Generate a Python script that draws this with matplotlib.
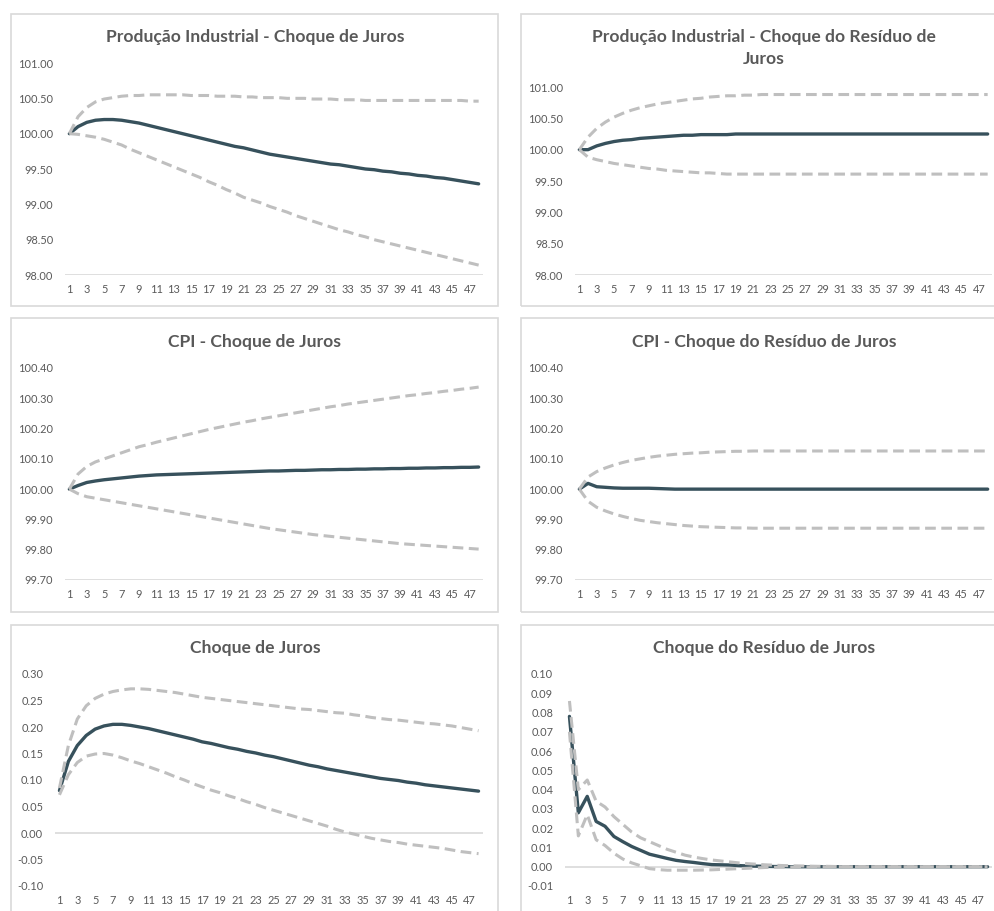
import matplotlib.pyplot as plt
from matplotlib.patches import Rectangle

plt.rcParams['font.family'] = ['Lato', 'DejaVu Sans']

W, H = 994, 911
periods = list(range(1, 49))
xtick_labels = [str(p) for p in range(1, 48, 2)]

# Produção Industrial - Choque de Juros
pi_juros_mid = [100.00, 100.10, 100.16, 100.19, 100.20, 100.20, 100.19, 100.17, 100.15, 100.12,
                100.09, 100.06, 100.03, 100.00, 99.97, 99.94, 99.91, 99.88, 99.85, 99.82,
                99.80, 99.77, 99.74, 99.71, 99.69, 99.67, 99.65, 99.63, 99.61, 99.59,
                99.57, 99.56, 99.54, 99.52, 99.50, 99.49, 99.47, 99.46, 99.44, 99.43,
                99.41, 99.40, 99.38, 99.37, 99.35, 99.33, 99.31, 99.29]
pi_juros_up = [100.00, 100.24, 100.37, 100.45, 100.49, 100.51, 100.53, 100.54, 100.54, 100.55,
               100.55, 100.55, 100.55, 100.55, 100.54, 100.54, 100.54, 100.53, 100.53, 100.53,
               100.52, 100.52, 100.51, 100.51, 100.51, 100.50, 100.50, 100.50, 100.49, 100.49,
               100.49, 100.48, 100.48, 100.48, 100.47, 100.47, 100.47, 100.47, 100.47, 100.47,
               100.47, 100.47, 100.47, 100.47, 100.47, 100.47, 100.46, 100.46]
pi_juros_lo = [100.00, 99.99, 99.97, 99.95, 99.92, 99.88, 99.84, 99.78, 99.73, 99.68,
               99.63, 99.58, 99.53, 99.48, 99.43, 99.38, 99.32, 99.27, 99.21, 99.16,
               99.10, 99.06, 99.02, 98.97, 98.93, 98.89, 98.84, 98.80, 98.76, 98.72,
               98.68, 98.64, 98.61, 98.57, 98.54, 98.50, 98.47, 98.44, 98.41, 98.38,
               98.35, 98.32, 98.29, 98.26, 98.23, 98.20, 98.17, 98.14]

# Produção Industrial - Choque do Resíduo de Juros
pi_resid_mid = [100.00, 100.00, 100.06, 100.10, 100.13, 100.15, 100.16, 100.18, 100.19, 100.20,
                100.21, 100.22, 100.23, 100.23, 100.24, 100.24, 100.24, 100.24, 100.25, 100.25,
                100.25, 100.25, 100.25, 100.25, 100.25, 100.25, 100.25, 100.25, 100.25, 100.25,
                100.25, 100.25, 100.25, 100.25, 100.25, 100.25, 100.25, 100.25, 100.25, 100.25,
                100.25, 100.25, 100.25, 100.25, 100.25, 100.25, 100.25, 100.25]
pi_resid_up = [100.00, 100.20, 100.34, 100.44, 100.52, 100.58, 100.63, 100.67, 100.70, 100.73,
               100.75, 100.77, 100.79, 100.81, 100.82, 100.84, 100.85, 100.86, 100.86, 100.87,
               100.87, 100.88, 100.88, 100.88, 100.88, 100.88, 100.88, 100.88, 100.88, 100.88,
               100.88, 100.88, 100.88, 100.88, 100.88, 100.88, 100.88, 100.88, 100.88, 100.88,
               100.88, 100.88, 100.88, 100.88, 100.88, 100.88, 100.88, 100.88]
pi_resid_lo = [100.00, 99.88, 99.84, 99.81, 99.78, 99.76, 99.74, 99.72, 99.70, 99.69,
               99.67, 99.66, 99.65, 99.64, 99.63, 99.63, 99.62, 99.61, 99.61, 99.61,
               99.61, 99.61, 99.61, 99.61, 99.61, 99.61, 99.61, 99.61, 99.61, 99.61,
               99.61, 99.61, 99.61, 99.61, 99.61, 99.61, 99.61, 99.61, 99.61, 99.61,
               99.61, 99.61, 99.61, 99.61, 99.61, 99.61, 99.61, 99.61]

# CPI - Choque de Juros
cpi_juros_mid = [100.000, 100.012, 100.022, 100.027, 100.031, 100.034, 100.037, 100.040, 100.043, 100.045,
                 100.047, 100.048, 100.049, 100.050, 100.051, 100.052, 100.053, 100.054, 100.055, 100.056,
                 100.057, 100.058, 100.059, 100.060, 100.060, 100.061, 100.062, 100.062, 100.063, 100.064,
                 100.064, 100.065, 100.065, 100.066, 100.066, 100.067, 100.067, 100.068, 100.068, 100.069,
                 100.069, 100.070, 100.070, 100.071, 100.071, 100.072, 100.072, 100.073]
cpi_juros_up = [100.000, 100.050, 100.075, 100.090, 100.100, 100.110, 100.120, 100.130, 100.140, 100.147,
                100.155, 100.162, 100.169, 100.176, 100.183, 100.190, 100.197, 100.203, 100.209, 100.215,
                100.221, 100.226, 100.232, 100.237, 100.242, 100.247, 100.252, 100.257, 100.262, 100.267,
                100.272, 100.276, 100.281, 100.285, 100.289, 100.293, 100.297, 100.301, 100.305, 100.309,
                100.312, 100.316, 100.319, 100.323, 100.326, 100.330, 100.333, 100.337]
cpi_juros_lo = [100.000, 99.985, 99.975, 99.970, 99.965, 99.960, 99.955, 99.950, 99.945, 99.940,
                99.935, 99.930, 99.925, 99.920, 99.915, 99.910, 99.905, 99.900, 99.895, 99.890,
                99.885, 99.880, 99.875, 99.870, 99.866, 99.862, 99.858, 99.854, 99.850, 99.847,
                99.844, 99.841, 99.838, 99.835, 99.832, 99.829, 99.826, 99.823, 99.820, 99.818,
                99.816, 99.814, 99.812, 99.810, 99.808, 99.806, 99.804, 99.802]

# CPI - Choque do Resíduo de Juros
cpi_resid_mid = [100.000, 100.019, 100.008, 100.006, 100.004, 100.003, 100.003, 100.003, 100.003, 100.002,
                 100.001, 100.000, 100.000, 100.000, 100.000, 100.000, 100.000, 100.000, 100.000, 100.000,
                 100.000, 100.000, 100.000, 100.000, 100.000, 100.000, 100.000, 100.000, 100.000, 100.000,
                 100.000, 100.000, 100.000, 100.000, 100.000, 100.000, 100.000, 100.000, 100.000, 100.000,
                 100.000, 100.000, 100.000, 100.000, 100.000, 100.000, 100.000, 100.000]
cpi_resid_up = [100.000, 100.040, 100.058, 100.070, 100.080, 100.088, 100.095, 100.100, 100.105, 100.109,
                100.112, 100.115, 100.117, 100.119, 100.120, 100.122, 100.123, 100.124, 100.125, 100.125,
                100.126, 100.126, 100.126, 100.126, 100.126, 100.126, 100.126, 100.126, 100.126, 100.126,
                100.126, 100.126, 100.126, 100.126, 100.126, 100.126, 100.126, 100.126, 100.126, 100.126,
                100.126, 100.126, 100.126, 100.126, 100.126, 100.126, 100.126, 100.126]
cpi_resid_lo = [100.000, 99.960, 99.940, 99.928, 99.918, 99.910, 99.903, 99.897, 99.893, 99.889,
                99.886, 99.883, 99.880, 99.878, 99.876, 99.875, 99.874, 99.873, 99.872, 99.872,
                99.871, 99.871, 99.871, 99.871, 99.871, 99.871, 99.871, 99.871, 99.871, 99.871,
                99.871, 99.871, 99.871, 99.871, 99.871, 99.871, 99.871, 99.871, 99.871, 99.871,
                99.871, 99.871, 99.871, 99.871, 99.871, 99.871, 99.871, 99.871]

# Choque de Juros
juros_mid = [0.080, 0.135, 0.165, 0.184, 0.196, 0.202, 0.205, 0.205, 0.203, 0.200,
             0.197, 0.193, 0.189, 0.185, 0.181, 0.177, 0.172, 0.169, 0.165, 0.161,
             0.158, 0.154, 0.151, 0.147, 0.144, 0.140, 0.136, 0.132, 0.128, 0.125,
             0.121, 0.118, 0.115, 0.112, 0.109, 0.106, 0.103, 0.101, 0.099, 0.096,
             0.094, 0.091, 0.089, 0.087, 0.085, 0.083, 0.081, 0.079]
juros_up = [0.085, 0.165, 0.215, 0.240, 0.254, 0.262, 0.267, 0.270, 0.272, 0.272,
            0.271, 0.269, 0.267, 0.265, 0.262, 0.259, 0.256, 0.254, 0.252, 0.250,
            0.248, 0.246, 0.244, 0.242, 0.240, 0.238, 0.236, 0.234, 0.233, 0.231,
            0.229, 0.227, 0.226, 0.223, 0.221, 0.218, 0.216, 0.214, 0.213, 0.211,
            0.209, 0.207, 0.206, 0.204, 0.202, 0.199, 0.196, 0.193]
juros_lo = [0.072, 0.110, 0.133, 0.145, 0.149, 0.150, 0.147, 0.142, 0.136, 0.131,
            0.125, 0.119, 0.113, 0.106, 0.100, 0.093, 0.087, 0.081, 0.076, 0.070,
            0.065, 0.059, 0.054, 0.048, 0.043, 0.038, 0.033, 0.028, 0.023, 0.018,
            0.013, 0.007, 0.002, -0.002, -0.006, -0.010, -0.013, -0.016, -0.018, -0.021,
            -0.023, -0.025, -0.027, -0.029, -0.032, -0.035, -0.037, -0.039]

# Choque do Resíduo de Juros
resid_mid = [0.0780, 0.0280, 0.0365, 0.0235, 0.0210, 0.0157, 0.0130, 0.0105, 0.0085, 0.0065,
             0.0054, 0.0043, 0.0033, 0.0027, 0.0022, 0.0016, 0.0011, 0.0010, 0.0009, 0.0006,
             0.0004, 0.0003, 0.0002, 0.0001, 0.0001, 0.0, 0.0, 0.0, 0.0, 0.0,
             0.0, 0.0, 0.0, 0.0, 0.0, 0.0, 0.0, 0.0, 0.0, 0.0,
             0.0, 0.0, 0.0, 0.0, 0.0, 0.0, 0.0, 0.0]
resid_up = [0.0860, 0.0400, 0.0450, 0.0340, 0.0310, 0.0260, 0.0220, 0.0180, 0.0150, 0.0130,
            0.0110, 0.0090, 0.0075, 0.0060, 0.0050, 0.0042, 0.0035, 0.0030, 0.0025, 0.0020,
            0.0016, 0.0013, 0.0010, 0.0008, 0.0006, 0.0005, 0.0004, 0.0003, 0.0002, 0.0002,
            0.0001, 0.0, 0.0, 0.0, 0.0, 0.0, 0.0, 0.0, 0.0, 0.0,
            0.0, 0.0, 0.0, 0.0, 0.0, 0.0, 0.0, 0.0]
resid_lo = [0.0700, 0.0160, 0.0270, 0.0140, 0.0110, 0.0070, 0.0040, 0.0020, 0.0005, -0.0010,
            -0.0015, -0.0018, -0.0018, -0.0018, -0.0018, -0.0017, -0.0016, -0.0014, -0.0012, -0.0010,
            -0.0008, -0.0006, -0.0004, -0.0003, -0.0002, -0.0002, -0.0001, -0.0001, 0.0, 0.0,
            0.0, 0.0, 0.0, 0.0, 0.0, 0.0, 0.0, 0.0, 0.0, 0.0,
            0.0, 0.0, 0.0, 0.0, 0.0, 0.0, 0.0, 0.0]

MAIN = "#37515C"
BAND = "#BFBFBF"
TEXT = "#595959"
GRID = "#D9D9D9"

panels = [
    # title, series, yticks, baseline, axes box px, frame box px, title centre px
    ("Produção Industrial - Choque de Juros", (pi_juros_mid, pi_juros_up, pi_juros_lo),
     [98.0, 98.5, 99.0, 99.5, 100.0, 100.5, 101.0], 98.0,
     (65, 63, 483, 275), (11, 14, 498, 306), (255, 37)),
    ("Produção Industrial - Choque do Resíduo de\nJuros", (pi_resid_mid, pi_resid_up, pi_resid_lo),
     [98.0, 98.5, 99.0, 99.5, 100.0, 100.5, 101.0], 98.0,
     (575, 87, 992, 275), (521, 14, 1010, 306), (764, 48)),
    ("CPI - Choque de Juros", (cpi_juros_mid, cpi_juros_up, cpi_juros_lo),
     [99.7, 99.8, 99.9, 100.0, 100.1, 100.2, 100.3, 100.4], 99.7,
     (65, 368, 483, 580), (11, 318, 498, 612), (254, 342)),
    ("CPI - Choque do Resíduo de Juros", (cpi_resid_mid, cpi_resid_up, cpi_resid_lo),
     [99.7, 99.8, 99.9, 100.0, 100.1, 100.2, 100.3, 100.4], 99.7,
     (575, 368, 992, 580), (521, 318, 1010, 612), (764, 342)),
    ("Choque de Juros", (juros_mid, juros_up, juros_lo),
     [-0.10, -0.05, 0.0, 0.05, 0.10, 0.15, 0.20, 0.25, 0.30], 0.0,
     (55, 674, 483, 886), (11, 625, 498, 930), (255, 648)),
    ("Choque do Resíduo de Juros", (resid_mid, resid_up, resid_lo),
     [-0.01, 0.0, 0.01, 0.02, 0.03, 0.04, 0.05, 0.06, 0.07, 0.08, 0.09, 0.10], 0.0,
     (565, 674, 992, 886), (521, 625, 1010, 930), (764, 648)),
]

fig = plt.figure(figsize=(W / 100, H / 100), dpi=100)

for title, (mid, up, lo), yticks, base, box, frame, tpos in panels:
    fx0, fy0, fx1, fy1 = frame
    fig.add_artist(Rectangle((fx0 / W, 1 - fy1 / H), (fx1 - fx0) / W, (fy1 - fy0) / H,
                             transform=fig.transFigure, fill=False, edgecolor=GRID, linewidth=1.2))
    fig.text(tpos[0] / W, 1 - tpos[1] / H, title, ha="center", va="center",
             fontsize=12.6, fontweight="bold", color=TEXT, linespacing=1.45)

    x0, y0, x1, y1 = box
    ax = fig.add_axes([x0 / W, 1 - y1 / H, (x1 - x0) / W, (y1 - y0) / H])
    ax.set_facecolor("none")
    ax.axhline(base, color=GRID, linewidth=1.2, zorder=1)
    ax.plot(periods, mid, color=MAIN, linewidth=2.4, zorder=3, solid_capstyle="round")
    for band in (up, lo):
        ax.plot(periods, band, color=BAND, linewidth=2.2, zorder=4, dashes=(3.5, 1.8))
    ax.set_xlim(0.5, 48.5)
    ax.set_ylim(yticks[0], yticks[-1])
    ax.set_yticks(yticks)
    ax.set_yticklabels([f"{v:.2f}" for v in yticks])
    ax.set_xticks(range(1, 48, 2))
    ax.set_xticklabels(xtick_labels)
    for side in ("top", "right", "bottom", "left"):
        ax.spines[side].set_visible(False)
    ax.tick_params(axis="y", length=0, pad=8.5, labelsize=7.9, labelcolor=TEXT)
    ax.tick_params(axis="x", length=0, pad=6.3, labelsize=7.9, labelcolor=TEXT)

fig.savefig("out.png", dpi=100)
